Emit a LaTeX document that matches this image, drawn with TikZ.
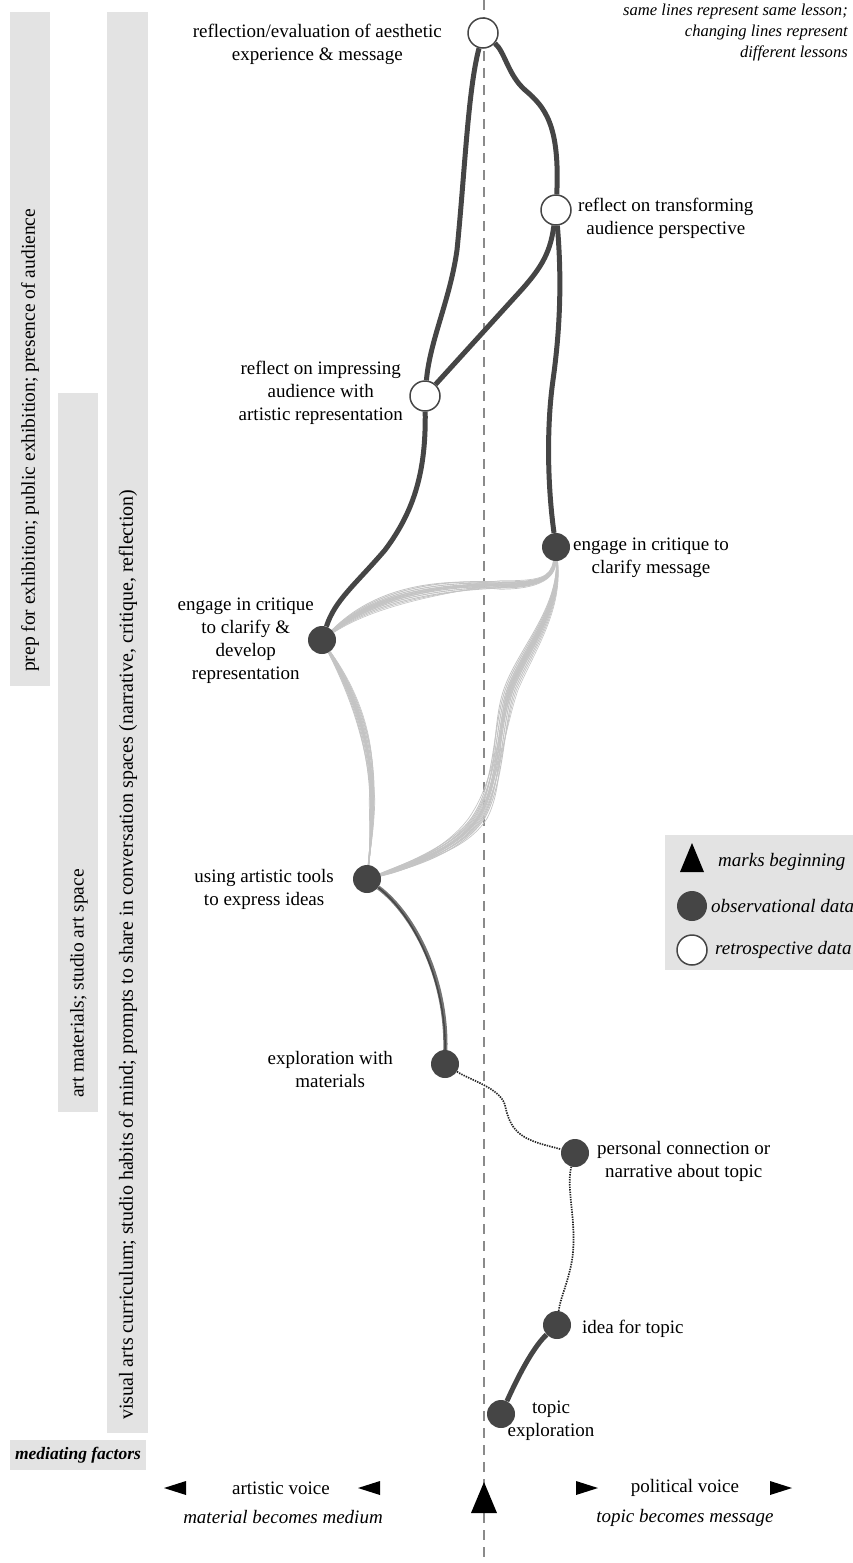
\documentclass[tikz,border=0pt]{standalone}
\usepackage{fontspec}
\setmainfont{Liberation Serif}
\usetikzlibrary{calc}
\definecolor{darkg}{HTML}{454545}
\definecolor{barg}{HTML}{E3E3E3}
\definecolor{lightg}{HTML}{C4C4C4}
\definecolor{dashg}{HTML}{8A8A8A}
\definecolor{midg}{HTML}{5A5A5A}
\pgfdeclarelayer{bars}
\pgfdeclarelayer{back}
\pgfsetlayers{bars,back,main}
\begin{document}
\begin{tikzpicture}[x=1pt,y=-1pt,
  obs/.style={circle,fill=darkg,minimum size=28pt,inner sep=0pt},
  retro/.style={circle,draw=darkg,fill=white,line width=1.5pt,minimum size=30pt,inner sep=0pt},
  lbl/.style={align=center,font=\fontsize{19}{23}\selectfont,inner sep=0pt},
  itl/.style={font=\itshape\fontsize{19}{23}\selectfont,inner sep=0pt},
  note/.style={align=right,font=\itshape\fontsize{16.6}{21}\selectfont,inner sep=0pt},
  darkline/.style={draw=darkg,line width=5pt},
  bundle/.style={draw=lightg},
  dotline/.style={draw=black!85,line width=1.7pt,dash pattern=on 1.4pt off 1.1pt},
  bartext/.style={rotate=90,anchor=west,font=\fontsize{19.5}{22}\selectfont,inner sep=0pt},
  centerline/.style={draw=dashg,line width=1.3pt,dash pattern=on 10pt off 7pt}]
\useasboundingbox (0,0) rectangle (853,1563);

% ---------- nodes ----------
\node[retro] (A) at (483,33) {};
\node[retro] (B) at (556,210) {};
\node[retro] (C) at (425,396) {};
\node[obs] (D) at (556,547) {};
\node[obs] (E) at (322,640) {};
\node[obs] (F) at (367,879) {};
\node[obs] (G) at (445,1064) {};
\node[obs] (H) at (575,1153) {};
\node[obs] (I) at (557,1325) {};
\node[obs] (J) at (501,1414) {};

% ---------- labels ----------
\node[lbl,anchor=east] (lA) at (442,44) {reflection/evaluation of aesthetic\\experience \& message};
\node[lbl,anchor=west] (lB) at (578,218) {reflect on transforming\\audience perspective};
\node[lbl,anchor=east] (lC) at (403,393) {reflect on impressing\\audience with\\artistic representation};
\node[lbl,anchor=west] (lD) at (573,558) {engage in critique to\\clarify message};
\node[lbl,anchor=east] (lE) at (314,641) {engage in critique\\to clarify \&\\develop\\representation};
\node[lbl,anchor=east] (lF) at (334,889) {using artistic tools\\to express ideas};
\node[lbl,anchor=east] (lG) at (393,1069) {exploration with\\materials};
\node[lbl,anchor=west] (lH) at (597,1161) {personal connection or\\narrative about topic};
\node[lbl,anchor=west] (lI) at (582,1329) {idea for topic};
\node[lbl] (lJ) at (551,1421) {topic\\exploration};

\node[note,anchor=north east] (nt) at (848,4) {same lines represent same lesson;\\changing lines represent\\different lessons};

% ---------- bottom axis ----------
\node[lbl] (av) at (281,1488) {artistic voice};
\node[itl] (mm) at (283,1517) {material becomes medium};
\node[lbl] (pv) at (685,1488) {political voice};
\node[itl] (tm) at (685,1518) {topic becomes message};
\fill[black] (164,1488) -- (186,1481) -- (186,1495) -- cycle;
\fill[black] (358,1488) -- (380,1481) -- (380,1495) -- cycle;
\fill[black] (598,1488) -- (576,1481) -- (576,1495) -- cycle;
\fill[black] (792,1488) -- (770,1481) -- (770,1495) -- cycle;
\fill[black] (471,1513) -- (497,1513) -- (484,1482) -- cycle;

% ---------- legend ----------
\fill[barg] (665,835) rectangle (853,970);
\fill[black] (680,872) -- (704,872) -- (692,843) -- cycle;
\node[obs,minimum size=30pt] (L2) at (692,906) {};
\node[retro] (L3) at (692,950) {};
\node[itl,anchor=west] (lt1) at (718,862) {marks beginning};
\node[itl,anchor=west] (lt2) at (711,906) {observational data};
\node[itl,anchor=west] (lt3) at (715,950) {retrospective data};

% ---------- mediating factors ----------
\node[bartext] (t1) at (30,672) {prep for exhibition; public exhibition; presence of audience};
\node[bartext] (t2) at (79,1098) {art materials; studio art space};
\node[bartext,font=\fontsize{20}{22}\selectfont] (t3) at (128,1420) {visual arts curriculum; studio habits of mind; prompts to share in conversation spaces (narrative, critique, reflection)};
\node[font=\bfseries\itshape\fontsize{17.5}{20}\selectfont,inner sep=0pt] (mf) at (78,1455) {mediating factors};

\begin{pgfonlayer}{bars}
\fill[barg] (10,12) rectangle (50,686);
\fill[barg] (58,393) rectangle (98,1112);
\fill[barg] (107,12) rectangle (148,1433);
\fill[barg] (10,1440) rectangle (146,1470);
\draw[centerline] (484,0) -- (484,1563);
\end{pgfonlayer}

\begin{pgfonlayer}{back}
% light grey sketchy bundles
\foreach \a/\b/\w in {0/0/1.6, 2/1/1.2, -2/-1/1.3, 4/3/1.1, -4/-3/1.1, 6/5/1.0, -6/-5/1.0, 1/-4/0.9, -1/4/0.9, 8/2/0.8, -8/-2/0.8, 3/-7/0.7, -3/7/0.7, 10/-1/0.6}{
  \draw[bundle,line width=\w] (E) .. controls (372,{598+\a}) and (430,{585+\a}) .. (500,{585+0.6*\b}) .. controls (540,{585+0.6*\b}) and ({553+0.4*\b},578) .. (D);
  \draw[bundle,line width=\w] (D) .. controls ({560+0.3*\a},610) and ({525+\a},650) .. ({510+0.8*\a},690) .. controls ({498+0.8*\a},725) and ({500+\b},780) .. ({480+\b},{815+0.5*\b}) .. controls ({460+0.5*\b},{848+\b}) and (410,{865+0.5*\a}) .. (F);
  \draw[bundle,line width=\w] (E) .. controls ({352+0.6*\a},690) and ({372+0.6*\a},740) .. ({372+0.4*\b},800) .. controls ({372+0.3*\b},830) and (370,850) .. (F);
}
% dark solid lessons
\draw[darkline] (A) .. controls (505,52) and (508,75) .. (525,90) .. controls (545,107) and (560,125) .. (B);
\draw[darkline] (A) .. controls (468,90) and (465,170) .. (457,250) .. controls (450,300) and (430,340) .. (C);
\draw[darkline] (B) .. controls (550,255) and (540,270) .. (515,297) -- (C);
\draw[darkline] (B) .. controls (562,280) and (560,330) .. (553,380) .. controls (546,430) and (548,490) .. (D);
\draw[darkline] (C) .. controls (426,470) and (415,510) .. (385,550) .. controls (355,585) and (335,600) .. (E);
\draw[darkline] (I) .. controls (530,1350) and (512,1390) .. (J);
% textured grey line
\draw[draw=midg!85,line width=4.2pt] (F) .. controls (415,915) and (447,980) .. (G);
\draw[draw=darkg,line width=1.4pt] (F) .. controls (413,914) and (446,980) .. (G);
% dotted lines
\draw[dotline] (G) .. controls (470,1080) and (500,1088) .. (505,1105) .. controls (510,1130) and (520,1138) .. (545,1145) -- (H);
\draw[dotline] (H) .. controls (565,1190) and (580,1230) .. (570,1270) .. controls (565,1290) and (560,1300) .. (I);
\end{pgfonlayer}
\end{tikzpicture}
\end{document}
